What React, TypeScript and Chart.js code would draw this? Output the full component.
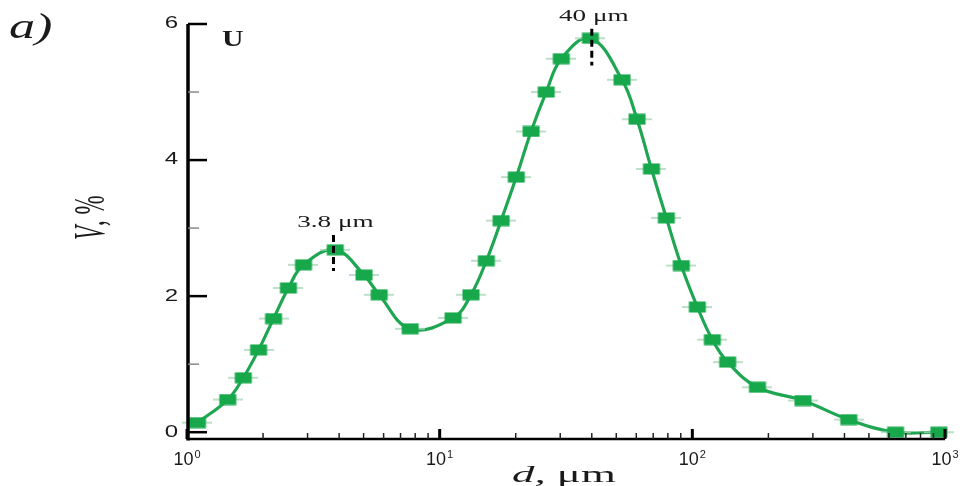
import React, { useEffect, useRef } from 'react';
import { Chart, registerables } from 'chart.js';

Chart.register(...registerables);

// ---- data ----
const diameters = [
  1.1, 1.45, 1.67, 1.92, 2.2, 2.52, 2.89, 3.86, 5.02, 5.76, 7.64,
  11.3, 13.3, 15.3, 17.5, 20.1, 23.0, 26.4, 30.3, 39.5, 52.7, 60.4,
  68.9, 78.9, 90.4, 104.7, 120, 138, 181, 274, 416, 637, 946,
];
const volumes = [
  0.14, 0.48, 0.8, 1.21, 1.67, 2.12, 2.46, 2.68, 2.31, 2.02, 1.52,
  1.68, 2.02, 2.52, 3.11, 3.75, 4.42, 5.0, 5.49, 5.79, 5.18, 4.6,
  3.87, 3.15, 2.45, 1.84, 1.36, 1.03, 0.66, 0.465, 0.185, 0.0, 0.0,
];

const yMajorTicks = [0, 2, 4, 6];
const yMajorLabels = ['0', '2', '4', '6'];
const yMinorTicks = [1, 3, 5];
const xDecadeTicks = [1, 10, 100, 1000];
const xDecadeBase = ['10', '10', '10', '10'];
const xDecadeExponents = ['0', '1', '2', '3'];
const xMinorTicks = [2, 3, 4, 5, 6, 7, 8, 9, 20, 30, 40, 50, 60, 70, 80, 90, 200, 300, 400, 500, 600, 700, 800, 900];

const peakDiameters = [3.8, 40];
const peakLabels = ['3.8 \u03bcm', '40 \u03bcm'];
const peakDashTop = [2.9, 5.93];
const peakDashBottom = [2.37, 5.39];

const panelLabel = 'a)';
const seriesLabel = 'U';
const xTitleItalic = 'd,';
const xTitleRest = ' \u03bcm';
const yTitleItalic = 'V';
const yTitleRest = ', %';

const INK = '#1a1a1a';

function makeMarker(): HTMLCanvasElement {
  const c = document.createElement('canvas');
  c.width = 30;
  c.height = 12;
  const g = c.getContext('2d')!;
  g.strokeStyle = '#a8d4b4';
  g.lineWidth = 1.5;
  g.beginPath();
  g.moveTo(0, 6);
  g.lineTo(30, 6);
  g.stroke();
  g.fillStyle = '#16a84b';
  g.fillRect(6.5, 0.5, 17, 11);
  return c;
}

const axesPlugin = {
  id: 'customAxes',
  afterDraw(chart: any) {
    const ctx = chart.ctx as CanvasRenderingContext2D;
    const xs = chart.scales.x;
    const ys = chart.scales.y;
    const area = chart.chartArea;
    const axisX = area.left + 1;
    const axisY = area.bottom;
    ctx.save();
    ctx.strokeStyle = '#000';
    ctx.lineCap = 'butt';

    // axis lines
    ctx.lineWidth = 3.5;
    ctx.beginPath();
    ctx.moveTo(axisX, area.top);
    ctx.lineTo(axisX, axisY + 1.5);
    ctx.stroke();
    ctx.lineWidth = 2.5;
    ctx.beginPath();
    ctx.moveTo(axisX, axisY);
    ctx.lineTo(area.right, axisY);
    ctx.stroke();

    // y ticks
    ctx.lineWidth = 2.5;
    yMajorTicks.forEach((v) => {
      const y = ys.getPixelForValue(v);
      ctx.beginPath();
      ctx.moveTo(axisX, y);
      ctx.lineTo(axisX + 19, y);
      ctx.stroke();
    });
    ctx.strokeStyle = '#888';
    ctx.lineWidth = 1.5;
    yMinorTicks.forEach((v) => {
      const y = ys.getPixelForValue(v);
      ctx.beginPath();
      ctx.moveTo(axisX, y);
      ctx.lineTo(axisX + 11, y);
      ctx.stroke();
    });

    // x ticks
    ctx.strokeStyle = '#222';
    ctx.lineWidth = 1.5;
    xMinorTicks.forEach((v) => {
      const x = xs.getPixelForValue(v);
      ctx.beginPath();
      ctx.moveTo(x, axisY);
      ctx.lineTo(x, axisY - 6);
      ctx.stroke();
    });
    ctx.strokeStyle = '#000';
    ctx.lineWidth = 3;
    xDecadeTicks.forEach((v) => {
      const x = xs.getPixelForValue(v);
      ctx.beginPath();
      ctx.moveTo(x, axisY);
      ctx.lineTo(x, axisY - 10);
      ctx.stroke();
    });

    // y tick labels (horizontally stretched like the reference)
    ctx.fillStyle = INK;
    ctx.textBaseline = 'middle';
    ctx.textAlign = 'right';
    ctx.font = '16px "Liberation Sans", Arial, sans-serif';
    yMajorTicks.forEach((v, i) => {
      const y = ys.getPixelForValue(v);
      ctx.save();
      ctx.translate(178, y);
      ctx.scale(1.5, 1);
      ctx.fillText(yMajorLabels[i], 0, 0);
      ctx.restore();
    });

    // x tick labels 10^n
    ctx.textBaseline = 'alphabetic';
    ctx.textAlign = 'left';
    xDecadeTicks.forEach((v, i) => {
      const x = xs.getPixelForValue(v);
      ctx.font = '18px "Liberation Sans", Arial, sans-serif';
      const wb = ctx.measureText(xDecadeBase[i]).width;
      ctx.font = '11px "Liberation Sans", Arial, sans-serif';
      const we = ctx.measureText(xDecadeExponents[i]).width;
      const start = x - (wb + we + 1) / 2;
      ctx.font = '18px "Liberation Sans", Arial, sans-serif';
      ctx.fillText(xDecadeBase[i], start, 465);
      ctx.font = '11px "Liberation Sans", Arial, sans-serif';
      ctx.fillText(xDecadeExponents[i], start + wb + 1, 458);
    });

    // axis titles
    ctx.save();
    ctx.translate(512, 482);
    ctx.scale(1.95, 1);
    ctx.font = 'italic 23px "Liberation Serif", "Times New Roman", serif';
    ctx.fillText(xTitleItalic, 0, 0);
    const wd = ctx.measureText(xTitleItalic).width;
    ctx.font = '23px "Liberation Serif", "Times New Roman", serif';
    ctx.fillText(xTitleRest, wd, 0);
    ctx.restore();

    ctx.save();
    ctx.translate(104, 240);
    ctx.scale(1.95, 1);
    ctx.rotate(-Math.PI / 2);
    ctx.font = 'italic 23px "Liberation Serif", "Times New Roman", serif';
    ctx.fillText(yTitleItalic, 0, 0);
    const wv = ctx.measureText(yTitleItalic).width;
    ctx.font = '23px "Liberation Serif", "Times New Roman", serif';
    ctx.fillText(yTitleRest, wv, 0);
    ctx.restore();

    // panel label and series label
    ctx.save();
    ctx.translate(9, 38);
    ctx.scale(1.45, 1);
    ctx.font = 'italic 36px "Liberation Serif", "Times New Roman", serif';
    ctx.fillText(panelLabel, 0, 0);
    ctx.restore();

    ctx.save();
    ctx.translate(222, 46);
    ctx.scale(1.3, 1);
    ctx.font = 'bold 23px "Liberation Serif", "Times New Roman", serif';
    ctx.fillText(seriesLabel, 0, 0);
    ctx.restore();

    // peak annotations
    ctx.strokeStyle = '#000';
    ctx.lineWidth = 3;
    ctx.setLineDash([7, 4]);
    peakDiameters.forEach((d, i) => {
      const x = xs.getPixelForValue(d);
      const yt = ys.getPixelForValue(peakDashTop[i]);
      const yb = ys.getPixelForValue(peakDashBottom[i]);
      ctx.beginPath();
      ctx.moveTo(x, yt);
      ctx.lineTo(x, yb);
      ctx.stroke();
    });
    ctx.setLineDash([]);
    ctx.textAlign = 'center';
    ctx.textBaseline = 'middle';
    peakDiameters.forEach((d, i) => {
      const x = xs.getPixelForValue(d);
      const yt = ys.getPixelForValue(peakDashTop[i]);
      ctx.save();
      ctx.translate(x + 2, yt - 12);
      ctx.scale(1.6, 1);
      ctx.font = '17px "Liberation Serif", "Times New Roman", serif';
      ctx.fillText(peakLabels[i], 0, 0);
      ctx.restore();
    });

    ctx.restore();
  },
};

export default function App() {
  const ref = useRef<HTMLCanvasElement | null>(null);

  useEffect(() => {
    if (!ref.current) return;
    const marker = makeMarker();
    const points = diameters.map((d, i) => ({ x: d, y: volumes[i] }));
    const chart = new Chart(ref.current, {
      type: 'line',
      data: {
        datasets: [
          {
            label: seriesLabel,
            data: points,
            borderColor: '#1fa652',
            borderWidth: 3.2,
            tension: 0.4,
            pointStyle: marker as any,
            pointRadius: 8,
            pointHoverRadius: 8,
            fill: false,
            clip: false as any,
          },
        ],
      },
      options: {
        animation: false,
        responsive: false,
        devicePixelRatio: 1,
        events: [],
        layout: { padding: { left: 187, right: 20, top: 24, bottom: 47 } },
        plugins: {
          legend: { display: false },
          tooltip: { enabled: false },
          title: { display: false },
        },
        scales: {
          x: { type: 'logarithmic', min: 1, max: 1000, display: false },
          y: { type: 'linear', min: -0.1, max: 6, display: false },
        },
      },
      plugins: [axesPlugin],
    });
    return () => chart.destroy();
  }, []);

  return (
    <div style={{ position: 'absolute', left: 0, top: 0, width: 965, height: 486, background: '#fff' }}>
      <canvas ref={ref} width={965} height={486} style={{ display: 'block', width: 965, height: 486 }} />
    </div>
  );
}
